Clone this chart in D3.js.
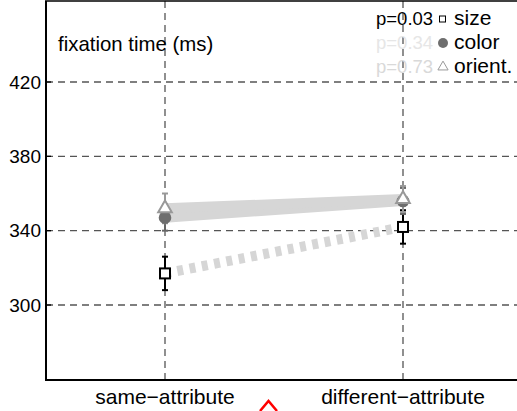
<!DOCTYPE html>
<html><head><meta charset="utf-8">
<script src="https://cdn.jsdelivr.net/npm/d3@7"></script>
<style>body{margin:0;background:#fff}svg{display:block}text{font-family:"Liberation Sans",Arial,sans-serif}</style>
</head><body><svg id="c" width="517" height="411"></svg>
<script>
const categories = ["same\u2212attribute", "different\u2212attribute"];
const yTicks = [300, 340, 380, 420];
const seriesNames = ["size", "color", "orient."];
const pLabels = ["p=0.03", "p=0.34", "p=0.73"];
const sizeMean = [317, 342];
const sizeErr = [9, 9];
const colorMean = [347, 356];
const colorErr = [7, 7];
const orientMean = [352, 357];
const orientErr = [8, 7];

const svg = d3.select("#c");
const L = 46, T = 1, B = 380, R = 522;
const x = d3.scaleLinear().domain([0.5, 2.5]).range([L, R]);
const y = d3.scaleLinear().domain([300, 420]).range([305, 82]);

// grid
const dash = "7,5";
svg.selectAll(".hg").data(yTicks).enter().append("line")
  .attr("x1", L).attr("x2", 517).attr("y1", d => y(d)).attr("y2", d => y(d))
  .attr("stroke", "#555").attr("stroke-width", 1.3).attr("stroke-dasharray", dash);
svg.selectAll(".vg").data([1, 2]).enter().append("line")
  .attr("x1", d => x(d)).attr("x2", d => x(d)).attr("y1", T).attr("y2", B)
  .attr("stroke", "#555").attr("stroke-width", 1.3).attr("stroke-dasharray", dash);

// axes
svg.append("line").attr("x1", L).attr("x2", L).attr("y1", T).attr("y2", B).attr("stroke", "#000").attr("stroke-width", 2);
svg.append("line").attr("x1", L - 1).attr("x2", 517).attr("y1", B).attr("y2", B).attr("stroke", "#000").attr("stroke-width", 2);
svg.append("line").attr("x1", L - 1).attr("x2", 517).attr("y1", T).attr("y2", T).attr("stroke", "#000").attr("stroke-width", 1.5);
svg.selectAll(".yt").data(yTicks).enter().append("line")
  .attr("x1", L).attr("x2", L + 5).attr("y1", d => y(d)).attr("y2", d => y(d)).attr("stroke", "#000").attr("stroke-width", 1.3);
svg.selectAll(".yl").data(yTicks).enter().append("text")
  .attr("x", 41).attr("y", d => y(d) + 6.5).attr("text-anchor", "end").attr("font-size", 19).text(d => d);
svg.selectAll(".xl").data(categories).enter().append("text")
  .attr("x", (d, i) => x(i + 1)).attr("y", 404).attr("text-anchor", "middle").attr("font-size", 21).text(d => d);

svg.append("text").attr("x", 58).attr("y", 51).attr("font-size", 20.4).text("fixation time (ms)");

// lines
const lineGen = d3.line().x((d, i) => x(i + 1)).y(d => y(d));
svg.append("path").attr("d", lineGen(sizeMean)).attr("fill", "none").attr("stroke", "#d6d6d6").attr("stroke-width", 10).attr("stroke-dasharray", "6,6.5");
svg.append("path").attr("d", lineGen(colorMean)).attr("fill", "none").attr("stroke", "#d6d6d6").attr("stroke-width", 10);
svg.append("path").attr("d", lineGen(orientMean)).attr("fill", "none").attr("stroke", "#d6d6d6").attr("stroke-width", 10);

function errBars(mean, err, col) {
  mean.forEach((m, i) => {
    const cx = x(i + 1);
    const g = svg.append("g").attr("stroke", col).attr("stroke-width", 2);
    g.append("line").attr("x1", cx).attr("x2", cx).attr("y1", y(m - err[i])).attr("y2", y(m + err[i]));
    g.append("line").attr("x1", cx - 3).attr("x2", cx + 3).attr("y1", y(m - err[i])).attr("y2", y(m - err[i]));
    g.append("line").attr("x1", cx - 3).attr("x2", cx + 3).attr("y1", y(m + err[i])).attr("y2", y(m + err[i]));
  });
}
errBars(sizeMean, sizeErr, "#000");
errBars(colorMean, colorErr, "#666");
errBars(orientMean, orientErr, "#999");

// markers
sizeMean.forEach((m, i) => {
  svg.append("rect").attr("x", x(i + 1) - 5).attr("y", y(m) - 5).attr("width", 10).attr("height", 10)
    .attr("fill", "#fff").attr("stroke", "#000").attr("stroke-width", 2);
});
colorMean.forEach((m, i) => {
  svg.append("circle").attr("cx", x(i + 1)).attr("cy", y(m)).attr("r", 6.3).attr("fill", "#6e6e6e");
});
const tri = d3.symbol().type(d3.symbolTriangle).size(80);
orientMean.forEach((m, i) => {
  svg.append("path").attr("d", tri()).attr("transform", `translate(${x(i + 1)},${y(m)})`)
    .attr("fill", "#fff").attr("stroke", "#999").attr("stroke-width", 2);
});

// legend
const pCols = ["#000", "#e6e6e6", "#d9d9d9"];
const rowY = [25, 49, 73];
pLabels.forEach((p, i) => {
  svg.append("text").attr("x", 376).attr("y", rowY[i]).attr("font-size", 18.5).attr("fill", pCols[i]).text(p);
  svg.append("text").attr("x", 454).attr("y", rowY[i]).attr("font-size", 21).attr("fill", "#000").text(seriesNames[i]);
});
svg.append("rect").attr("x", 439.5).attr("y", rowY[0] - 9).attr("width", 6).attr("height", 6).attr("fill", "#fff").attr("stroke", "#000").attr("stroke-width", 1);
svg.append("circle").attr("cx", 443).attr("cy", rowY[1] - 6).attr("r", 5).attr("fill", "#6e6e6e");
svg.append("path").attr("d", d3.symbol().type(d3.symbolTriangle).size(45)()).attr("transform", `translate(443,${rowY[2] - 6})`)
  .attr("fill", "#fff").attr("stroke", "#999").attr("stroke-width", 1);

// red caret
svg.append("path").attr("d", "M260,411 L268.5,401 L277,411").attr("fill", "none").attr("stroke", "#f00").attr("stroke-width", 2.5);
</script></body></html>
